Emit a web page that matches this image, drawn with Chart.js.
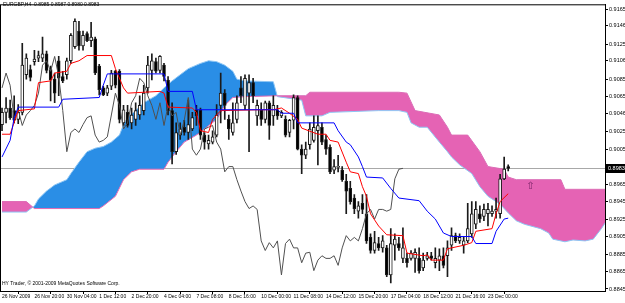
<!DOCTYPE html>
<html>
<head>
<meta charset="utf-8">
<script src="https://cdn.jsdelivr.net/npm/chart.js@4.4.1/dist/chart.umd.min.js"></script>
<style>
  html, body { margin: 0; padding: 0; background: #fff; }
  canvas { display: block; }
</style>
</head>
<body>
<canvas id="chart1" width="625" height="303"></canvas>
<script>
const symbol = "EURGBP,H4";

const timeLabels = ["26 Nov 2009", "26 Nov 20:00", "30 Nov 04:00", "1 Dec 12:00", "2 Dec 20:00",
  "4 Dec 04:00", "7 Dec 08:00", "8 Dec 16:00", "10 Dec 00:00", "11 Dec 08:00", "14 Dec 12:00",
  "15 Dec 20:00", "17 Dec 04:00", "18 Dec 12:00", "21 Dec 16:00", "23 Dec 00:00"];
const timeLabelBars = [0, 8, 16, 24, 32, 40, 48, 56, 64, 72, 80, 88, 96, 104, 112, 120];

const priceLabels = ["0.9165", "0.9146", "0.9125", "0.9106", "0.9085", "0.9065", "0.9046", "0.9025",
  "0.9005", "0.8965", "0.8945", "0.8925", "0.8905", "0.8885", "0.8865", "0.8845"];

// H4 candles, one per bar
const open = [0.9033,0.9047,0.9052,0.9049,0.9039,0.9047,0.9090,0.9096,0.9105,0.9109,
  0.9109,0.9114,0.9096,0.9085,0.9106,0.9088,0.9090,0.9106,0.9122,0.9140,
  0.9123,0.9137,0.9129,0.9131,0.9100,0.9075,0.9069,0.9077,0.9094,0.9094,
  0.9035,0.9047,0.9035,0.9039,0.9044,0.9049,0.9075,0.9095,0.9105,0.9095,
  0.9101,0.9084,0.9049,0.9002,0.9021,0.9030,0.9024,0.9028,0.9050,0.9050,
  0.9021,0.9011,0.9013,0.9021,0.9055,0.9069,0.9039,0.9024,0.9039,0.9075,
  0.9055,0.9069,0.9081,0.9043,0.9050,0.9039,0.9058,0.9043,0.9050,0.9043,
  0.9039,0.9024,0.9038,0.9064,0.9005,0.8998,0.9010,0.9015,0.9026,0.9030,
  0.9016,0.9007,0.8981,0.8984,0.8981,0.8968,0.8960,0.8949,0.8934,0.8943,
  0.8931,0.8904,0.8889,0.8897,0.8892,0.8892,0.8861,0.8895,0.8897,0.8880,
  0.8880,0.8880,0.8880,0.8880,0.8869,0.8880,0.8883,0.8875,0.8878,0.8883,
  0.8883,0.8895,0.8906,0.8900,0.8895,0.8900,0.8908,0.8919,0.8931,0.8928,
  0.8931,0.8931,0.8934,0.8931,0.8971,0.8985];
const high = [0.9052,0.9064,0.9061,0.9066,0.9056,0.9126,0.9114,0.9101,0.9118,0.9117,
  0.9133,0.9117,0.9100,0.9092,0.9111,0.9094,0.9109,0.9137,0.9154,0.9151,
  0.9140,0.9139,0.9150,0.9133,0.9102,0.9077,0.9078,0.9095,0.9095,0.9096,
  0.9055,0.9055,0.9052,0.9058,0.9066,0.9078,0.9111,0.9114,0.9109,0.9112,
  0.9103,0.9088,0.9058,0.9035,0.9035,0.9038,0.9061,0.9047,0.9055,0.9052,
  0.9024,0.9021,0.9026,0.9056,0.9092,0.9073,0.9044,0.9058,0.9066,0.9088,
  0.9090,0.9090,0.9086,0.9061,0.9058,0.9060,0.9060,0.9066,0.9055,0.9049,
  0.9043,0.9039,0.9067,0.9066,0.9010,0.9013,0.9035,0.9043,0.9043,0.9035,
  0.9021,0.9010,0.8993,0.8998,0.8985,0.8976,0.8968,0.8953,0.8945,0.8953,
  0.8953,0.8908,0.8911,0.8904,0.8906,0.8895,0.8914,0.8908,0.8904,0.8915,
  0.8886,0.8889,0.8891,0.8892,0.8886,0.8887,0.8887,0.8892,0.8891,0.8892,
  0.8900,0.8915,0.8909,0.8908,0.8904,0.8943,0.8945,0.8945,0.8940,0.8942,
  0.8943,0.8940,0.8949,0.8976,0.8996,0.8987];
const low = [0.9026,0.9035,0.9039,0.9035,0.9034,0.9044,0.9085,0.9083,0.9101,0.9105,
  0.9105,0.9092,0.9060,0.9058,0.9066,0.9081,0.9085,0.9103,0.9120,0.9118,
  0.9118,0.9128,0.9122,0.9090,0.9067,0.9066,0.9066,0.9073,0.9075,0.9035,
  0.9032,0.9030,0.9028,0.9032,0.9039,0.9044,0.9069,0.9084,0.9092,0.9092,
  0.9083,0.9044,0.8988,0.8999,0.9016,0.9021,0.9016,0.9026,0.9032,0.9016,
  0.9005,0.9005,0.9011,0.9019,0.9035,0.9039,0.9016,0.9021,0.9035,0.9058,
  0.9050,0.9002,0.9058,0.9032,0.9032,0.9035,0.9016,0.9032,0.9039,0.9041,
  0.9019,0.9019,0.9028,0.9004,0.8977,0.8994,0.9005,0.9013,0.8987,0.9010,
  0.8999,0.8977,0.8977,0.8979,0.8968,0.8931,0.8942,0.8931,0.8926,0.8931,
  0.8897,0.8886,0.8886,0.8889,0.8887,0.8859,0.8852,0.8878,0.8889,0.8875,
  0.8870,0.8878,0.8864,0.8863,0.8866,0.8878,0.8878,0.8869,0.8866,0.8869,
  0.8859,0.8889,0.8898,0.8897,0.8886,0.8898,0.8904,0.8914,0.8921,0.8923,
  0.8917,0.8928,0.8926,0.8926,0.8970,0.8980];
const close = [0.9047,0.9052,0.9041,0.9038,0.9047,0.9101,0.9109,0.9087,0.9108,0.9112,
  0.9114,0.9095,0.9084,0.9069,0.9086,0.9083,0.9106,0.9135,0.9151,0.9123,
  0.9135,0.9129,0.9133,0.9092,0.9073,0.9067,0.9075,0.9092,0.9078,0.9039,
  0.9050,0.9032,0.9044,0.9049,0.9055,0.9069,0.9101,0.9106,0.9094,0.9111,
  0.9088,0.9049,0.9002,0.9024,0.9028,0.9024,0.9033,0.9041,0.9043,0.9021,
  0.9013,0.9015,0.9019,0.9044,0.9069,0.9055,0.9028,0.9035,0.9058,0.9066,
  0.9086,0.9081,0.9066,0.9055,0.9039,0.9058,0.9032,0.9055,0.9043,0.9047,
  0.9021,0.9038,0.9064,0.9005,0.8998,0.9005,0.9028,0.9030,0.9032,0.9013,
  0.9005,0.8979,0.8985,0.8985,0.8970,0.8957,0.8945,0.8937,0.8940,0.8936,
  0.8900,0.8889,0.8898,0.8892,0.8900,0.8861,0.8897,0.8902,0.8892,0.8892,
  0.8875,0.8886,0.8887,0.8866,0.8878,0.8883,0.8880,0.8880,0.8883,0.8872,
  0.8892,0.8906,0.8900,0.8904,0.8900,0.8914,0.8931,0.8936,0.8925,0.8936,
  0.8936,0.8934,0.8936,0.8971,0.8982,0.8983];

// Ichimoku lines, read as vertices (bar index, price)
const tenkanBars = [0,2,4,8,9,12,13,16,17,19,21,27,28,30,31,39,40,41,47,48,49,51,52,54,64,67,69,71,73,74,
  78,80,81,83,85,86,88,89,90,91,93,95,99,100,104,105,106,109,110,114,116,117,121,122,123,125];
const tenkanValues = [0.9022,0.9022,0.9049,0.9051,0.9081,0.9083,0.9092,0.9094,0.9103,0.9106,
  0.9112,0.9112,0.9097,0.9075,0.9069,0.9071,0.9069,0.9053,0.9052,0.9047,
  0.9026,0.9024,0.9039,0.9049,0.9050,0.9050,0.9052,0.9046,0.9039,0.9029,
  0.9022,0.9022,0.9015,0.9013,0.8990,0.8979,0.8977,0.8962,0.8951,0.8931,
  0.8917,0.8907,0.8906,0.8886,0.8883,0.8884,0.8878,0.8878,0.8891,0.8895,
  0.8898,0.8911,0.8914,0.8931,0.8945,0.8954];

const kijunBars = [0,2,3,4,14,15,24,25,26,40,41,47,48,68,69,72,73,82,83,85,
  86,88,89,90,94,96,98,103,105,107,109,111,116,117,121,122,124,125];
const kijunValues = [0.8996,0.9015,0.9041,0.9053,0.9053,0.9062,0.9064,0.9078,0.9091,0.9091,
  0.9071,0.9071,0.9050,0.9050,0.9046,0.9046,0.9035,0.9035,0.9026,0.9013,
  0.9010,0.8996,0.8985,0.8973,0.8972,0.8960,0.8949,0.8946,0.8934,0.8925,
  0.8909,0.8905,0.8905,0.8897,0.8897,0.8911,0.8925,0.8926];

const spanABars = [0,6,8,9,11,13,16,17,19,21,23,25,27,29,30,31,33,35,38,40,
  42,44,46,49,51,53,55,57,58,60,67,68,74,75,79,81,93,98,100,101,
  103,105,108,110,111,113,116,118,120,123,125,127,129,133,135,136,139,141,144,146,
  147,148,149,150];
const spanAValues = [0.8933,0.8933,0.8940,0.8948,0.8957,0.8964,0.8970,0.8977,0.8990,0.9002,
  0.9006,0.9008,0.9013,0.9021,0.9033,0.9041,0.9049,0.9058,0.9066,0.9075,
  0.9083,0.9090,0.9097,0.9103,0.9106,0.9105,0.9101,0.9094,0.9085,0.9083,
  0.9082,0.9065,0.9061,0.9043,0.9043,0.9047,0.9049,0.9049,0.9047,0.9035,
  0.9030,0.9030,0.9013,0.9002,0.8996,0.8987,0.8977,0.8962,0.8951,0.8942,
  0.8932,0.8923,0.8919,0.8914,0.8909,0.8902,0.8899,0.8901,0.8900,0.8902,
  0.8908,0.8914,0.8921,0.8928];

const spanBBars = [0,6,8,24,25,28,30,32,34,40,41,43,45,48,50,53,55,57,60,68,
  75,76,98,100,102,108,110,111,115,118,120,124,125,127,138,139,150];
const spanBValues = [0.8945,0.8945,0.8937,0.8937,0.8940,0.8951,0.8970,0.8979,0.8982,0.8982,
  0.8990,0.9002,0.9013,0.9021,0.9028,0.9039,0.9055,0.9064,0.9065,0.9066,
  0.9066,0.9070,0.9070,0.9069,0.9049,0.9044,0.9030,0.9021,0.9021,0.9002,
  0.8985,0.8982,0.8973,0.8970,0.8970,0.8959,0.8959];

const chikouShift = 26;

const blueKumo = "#2a8ee6";
const pinkKumo = "#e563b4";
const smallFont = "'Liberation Sans', Arial, sans-serif";

const toPoints = (bars, vals) => bars.map((b, i) => ({ x: b, y: vals[i] }));
const chikou = close.slice(chikouShift).map((c, i) => ({ x: i, y: c }));
const lastClose = close[close.length - 1];
const isBull = close.map((c, i) => c >= open[i]);

const mtDecor = {
  id: "mtDecor",
  beforeDatasetsDraw(chart) {
    const { ctx, chartArea: a, scales: { y } } = chart;
    const py = Math.round(y.getPixelForValue(lastClose)) + 0.5;
    ctx.save();
    ctx.strokeStyle = "#a8a8a8";
    ctx.lineWidth = 1;
    ctx.beginPath();
    ctx.moveTo(a.left, py);
    ctx.lineTo(a.right, py);
    ctx.stroke();
    ctx.restore();
  },
  afterDraw(chart) {
    const { ctx, chartArea: a, scales: { x, y } } = chart;
    ctx.save();
    ctx.strokeStyle = "#000";
    ctx.lineWidth = 1;
    ctx.strokeRect(a.left + 0.5, a.top + 0.5, a.right - a.left, a.bottom - a.top);
    ctx.font = "5px " + smallFont;
    ctx.fillStyle = "#000";
    ctx.textBaseline = "middle";
    ctx.textAlign = "left";
    const n = close.length - 1;
    ctx.fillText(symbol + "  " + [open[n], high[n], low[n], close[n]].map(v => v.toFixed(4)).join(" "), 3, 5);
    ctx.fillText("HY Trader, \u00a9 2001-2009 MetaQuotes Software Corp.", 2, 284);
    // bid price box on the price scale
    const py = Math.round(y.getPixelForValue(lastClose));
    ctx.fillStyle = "#000";
    ctx.fillRect(a.right + 1, py - 4, 625 - a.right - 1, 9);
    ctx.fillStyle = "#fff";
    ctx.font = "5.5px " + smallFont;
    ctx.fillText(lastClose.toFixed(4), a.right + 3, py + 0.5);
    // arrow object
    ctx.fillStyle = "#7a2468";
    ctx.font = "10px 'DejaVu Sans', sans-serif";
    ctx.textAlign = "center";
    ctx.fillText("\u21e7", x.getPixelForValue(130.5), y.getPixelForValue(0.8962));
    ctx.restore();
  }
};

const ctx = document.getElementById("chart1").getContext("2d");
const chart = new Chart(ctx, {
  type: "bar",
  data: {
    datasets: [
      {
        type: "line",
        data: toPoints(spanABars, spanAValues),
        borderColor: "#8ec6f4",
        borderWidth: 1,
        pointRadius: 0,
        tension: 0,
        fill: { target: 1, above: blueKumo, below: pinkKumo },
        order: 10,
      },
      {
        type: "line",
        data: toPoints(spanBBars, spanBValues),
        borderColor: "#e06ab4",
        borderWidth: 1,
        pointRadius: 0,
        tension: 0,
        fill: false,
        order: 9,
      },
      {
        data: open.map((o, i) => ({ x: i, y: [low[i], high[i]] })),
        backgroundColor: "#1a1a1a",
        barThickness: 1,
        grouped: false,
        borderSkipped: false,
        order: 6,
      },
      {
        data: open.map((o, i) => ({ x: i, y: [o, close[i]] })),
        backgroundColor: open.map((o, i) => (isBull[i] ? "#ffffff" : "#000000")),
        borderColor: "#1a1a1a",
        borderWidth: 1,
        borderSkipped: false,
        barThickness: 3,
        minBarLength: 1,
        grouped: false,
        order: 5,
      },
      {
        type: "line",
        data: chikou,
        borderColor: "#505050",
        borderWidth: 1,
        pointRadius: 0,
        tension: 0,
        fill: false,
        order: 3,
      },
      {
        type: "line",
        data: toPoints(tenkanBars, tenkanValues),
        borderColor: "#ff0000",
        borderWidth: 1,
        pointRadius: 0,
        tension: 0,
        fill: false,
        order: 2,
      },
      {
        type: "line",
        data: toPoints(kijunBars, kijunValues),
        borderColor: "#0000ff",
        borderWidth: 1,
        pointRadius: 0,
        tension: 0,
        fill: false,
        order: 1,
      },
    ],
  },
  plugins: [mtDecor],
  options: {
    responsive: false,
    animation: false,
    layout: { padding: 0 },
    plugins: { legend: { display: false }, tooltip: { enabled: false } },
    scales: {
      x: {
        type: "linear",
        min: -0.5,
        max: 148.9,
        offset: false,
        grid: { drawOnChartArea: false, tickLength: 3, color: "#000" },
        border: { color: "#000" },
        ticks: {
          autoSkip: false,
          maxRotation: 0,
          align: "start",
          padding: 0,
          color: "#000",
          font: { size: 5, family: smallFont },
          callback: (v) => timeLabels[timeLabelBars.indexOf(v)],
        },
        afterBuildTicks: (s) => { s.ticks = timeLabelBars.map((v) => ({ value: v })); },
        afterFit: (s) => { s.height = 12; },
      },
      y: {
        position: "right",
        min: 0.88427,
        max: 0.91706,
        grid: { drawOnChartArea: false, tickLength: 3, color: "#000" },
        border: { color: "#000" },
        ticks: {
          padding: 1,
          color: "#000",
          font: { size: 5.5, family: smallFont },
          callback: (v, i) => priceLabels[i],
        },
        afterBuildTicks: (s) => { s.ticks = priceLabels.map((t) => ({ value: parseFloat(t) })); },
        afterFit: (s) => { s.width = 20; },
      },
    },
  },
});
</script>
</body>
</html>
